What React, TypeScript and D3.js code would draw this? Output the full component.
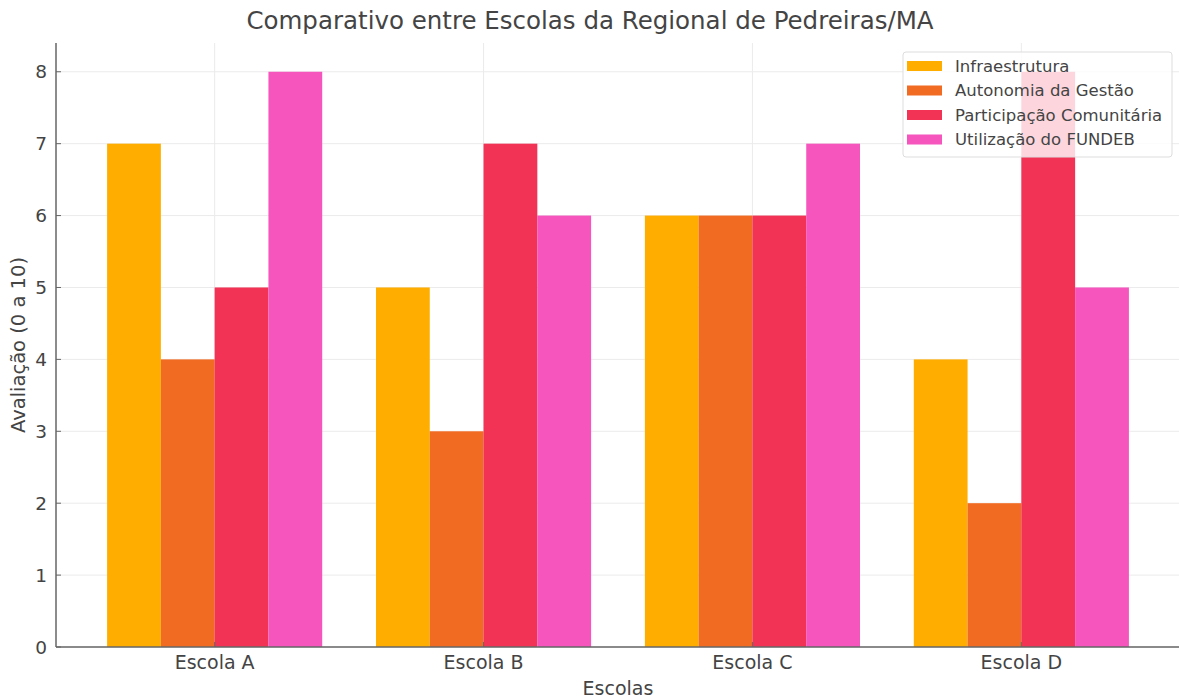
import React from "react";
import * as d3 from "d3";

const categories = ["Escola A", "Escola B", "Escola C", "Escola D"];
const seriesNames = ["Infraestrutura", "Autonomia da Gestão", "Participação Comunitária", "Utilização do FUNDEB"];
const infraestrutura = [7, 5, 6, 4];
const autonomia = [4, 3, 6, 2];
const participacao = [5, 7, 6, 8];
const fundeb = [8, 6, 7, 5];
const colors = ["#FFAE00", "#F26B22", "#F23355", "#F655BE"];
const yTicks = [0, 1, 2, 3, 4, 5, 6, 7, 8];

const W = 1179;
const H = 699;
const left = 56;
const right = 1180;
const top = 43;
const bottom = 647;
const font = "DejaVu Sans, sans-serif";
const textColor = "#444";

export default function App() {
  const series = [infraestrutura, autonomia, participacao, fundeb];
  const x = d3.scaleLinear().domain([-0.59, 3.59]).range([left, right]);
  const y = d3.scaleLinear().domain([0, 8.4]).range([bottom, top]);
  const bw = 0.2;
  return (
    <svg width={W} height={H} style={{ position: "absolute", left: 0, top: 0, background: "#fff" }}>
      <g>
        {yTicks.map((t) => (
          <line key={"gy" + t} x1={left} x2={W} y1={y(t)} y2={y(t)} stroke="#ebebeb" strokeWidth={1} />
        ))}
        {categories.map((c, i) => (
          <line key={"gx" + c} x1={x(i)} x2={x(i)} y1={top} y2={bottom} stroke="#ebebeb" strokeWidth={1} />
        ))}
      </g>
      <g>
        {series.map((vals, s) =>
          vals.map((v, i) => {
            const x0 = x(i + (s - 1.5) * bw - bw / 2);
            const x1 = x(i + (s - 1.5) * bw + bw / 2);
            return (
              <rect key={s + "-" + i} x={x0} y={y(v)} width={x1 - x0} height={y(0) - y(v)} fill={colors[s]} />
            );
          })
        )}
      </g>
      <line x1={left} x2={left} y1={top} y2={bottom} stroke="#666" strokeWidth={1.5} />
      <line x1={left} x2={W} y1={bottom} y2={bottom} stroke="#666" strokeWidth={1.5} />
      {yTicks.map((t) => (
        <g key={"ty" + t}>
          <line x1={left} x2={left + 5} y1={y(t)} y2={y(t)} stroke="#666" strokeWidth={1} />
          <text x={left - 9} y={y(t)} dy="0.36em" textAnchor="end" fontSize={18.5} fill={textColor} fontFamily={font}>
            {t}
          </text>
        </g>
      ))}
      {categories.map((c, i) => (
        <g key={"tx" + c}>
          <line x1={x(i)} x2={x(i)} y1={bottom} y2={bottom - 5} stroke="#666" strokeWidth={1} />
          <text x={x(i)} y={bottom + 22} textAnchor="middle" fontSize={19} fill={textColor} fontFamily={font}>
            {c}
          </text>
        </g>
      ))}
      <text x={(left + right) / 2} y={695} textAnchor="middle" fontSize={19} fill={textColor} fontFamily={font}>
        Escolas
      </text>
      <text
        transform={`translate(25, ${(top + bottom) / 2}) rotate(-90)`}
        textAnchor="middle"
        fontSize={19.5}
        fill={textColor}
        fontFamily={font}
      >
        Avaliação (0 a 10)
      </text>
      <text x={590} y={29} textAnchor="middle" fontSize={24.5} fill={textColor} fontFamily={font}>
        Comparativo entre Escolas da Regional de Pedreiras/MA
      </text>
      <g>
        <rect x={903} y={52} width={269} height={105} rx={3} fill="#fff" fillOpacity={0.8} stroke="#ddd" />
        {seriesNames.map((n, i) => (
          <g key={n}>
            <rect x={907} y={61 + i * 24.5} width={35} height={10} fill={colors[i]} />
            <text x={955} y={66 + i * 24.5} dy="0.35em" fontSize={16.5} fill={textColor} fontFamily={font}>
              {n}
            </text>
          </g>
        ))}
      </g>
    </svg>
  );
}
